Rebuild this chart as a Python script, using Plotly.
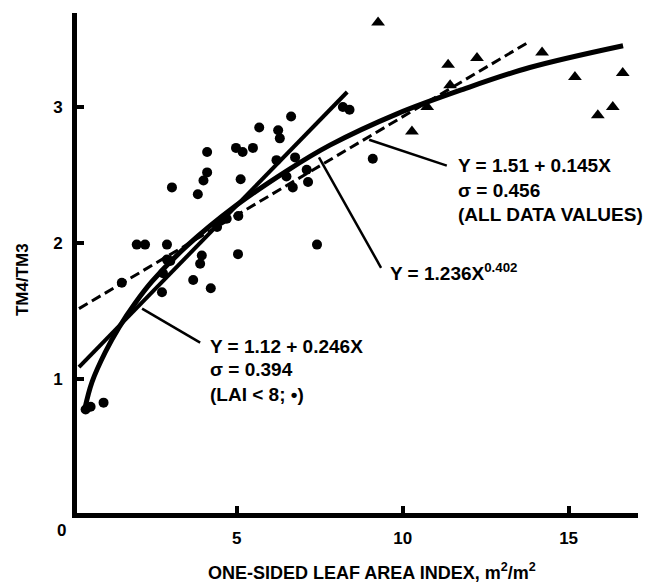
import plotly.graph_objects as go

# Data
circle_x = [0.45, 0.6, 0.99, 1.54, 1.99, 2.24, 2.75, 2.78, 2.9, 2.9, 3.05, 3.0, 3.69, 3.83, 3.9, 3.95,
            4.0, 4.11, 4.11, 4.22, 4.41, 4.7, 5.04, 4.98, 5.05, 5.12, 5.18, 5.49, 5.68, 6.2, 6.25,
            6.3, 6.5, 6.64, 6.69, 6.76, 7.11, 7.15, 7.42, 8.2, 8.4, 9.1]
circle_y = [0.78, 0.80, 0.83, 1.71, 1.99, 1.99, 1.64, 1.78, 1.99, 1.88, 2.41, 1.87, 1.73, 2.36, 1.85, 1.91,
            2.46, 2.52, 2.67, 1.67, 2.12, 2.18, 1.92, 2.70, 2.20, 2.47, 2.67, 2.70, 2.85, 2.61, 2.83,
            2.77, 2.49, 2.93, 2.41, 2.63, 2.54, 2.45, 1.99, 3.00, 2.98, 2.62]

tri_x = [9.26, 10.28, 10.74, 11.37, 11.43, 12.24, 14.2, 15.19, 15.88, 16.33, 16.63]
tri_y = [3.62, 2.82, 3.00, 3.31, 3.16, 3.36, 3.40, 3.22, 2.94, 3.00, 3.25]

# Fitted lines as drawn in the figure
lin8_x = [0.25, 8.33]
lin8_y = [1.09, 3.11]
all_x = [0.25, 13.75]
all_y = [1.52, 3.47]
pow_x = [0.42, 0.64, 1.04, 1.45, 1.94, 2.45, 3.5, 5.0, 6.5, 7.81, 9.83, 11.82, 13.83, 16.64]
pow_y = [0.78, 0.98, 1.20, 1.38, 1.56, 1.72, 1.98, 2.28, 2.53, 2.72, 2.95, 3.13, 3.29, 3.45]

x_ticks = [5, 10, 15]
y_ticks = [1, 2, 3]

FONT = "Liberation Sans, Arial, sans-serif"

fig = go.Figure()
fig.add_trace(go.Scatter(x=all_x, y=all_y, mode="lines",
                         line=dict(color="black", width=3, dash="10px,5px")))
fig.add_trace(go.Scatter(x=lin8_x, y=lin8_y, mode="lines",
                         line=dict(color="black", width=4)))
fig.add_trace(go.Scatter(x=pow_x, y=pow_y, mode="lines",
                         line=dict(color="black", width=5, shape="spline", smoothing=1.0)))
fig.add_trace(go.Scatter(x=circle_x, y=circle_y, mode="markers",
                         marker=dict(symbol="circle", size=10, color="black")))
fig.add_trace(go.Scatter(x=tri_x, y=tri_y, mode="markers",
                         marker=dict(symbol="triangle-up", size=12, color="black")))

# pointer lines
for (x0, y0, x1, y1) in [(2.15, 1.52, 3.9, 1.27), (8.99, 2.76, 11.33, 2.57), (7.48, 2.63, 9.35, 1.82)]:
    fig.add_shape(type="line", x0=x0, y0=y0, x1=x1, y1=y1, xref="x", yref="y",
                  line=dict(color="black", width=2.5))

def txt(x, y, s, size=19, **kw):
    fig.add_annotation(x=x, y=y, xref="x", yref="y", text="<b>" + s + "</b>", showarrow=False,
                       xanchor="left", yanchor="middle", font=dict(family=FONT, size=size, color="black"), **kw)

txt(4.14, 1.24, "Y = 1.12 + 0.246X")
txt(4.14, 1.07, "σ = 0.394")
txt(4.14, 0.89, "(LAI < 8; •)")
txt(11.6, 2.57, "Y = 1.51 + 0.145X")
txt(11.6, 2.39, "σ = 0.456")
txt(11.6, 2.21, "(ALL DATA VALUES)")
txt(9.56, 1.79, "Y = 1.236X<sup>0.402</sup>")

# axis titles and corner zero
fig.add_annotation(x=0.526, y=-0.118, xref="paper", yref="paper", showarrow=False,
                   text="<b>ONE-SIDED LEAF AREA INDEX, m<sup>2</sup>/m<sup>2</sup></b>",
                   font=dict(family=FONT, size=18, color="black"), xanchor="center", yanchor="middle")
fig.add_annotation(x=-0.098, y=0.466, xref="paper", yref="paper", showarrow=False,
                   text="<b>TM4/TM3</b>", textangle=-90,
                   font=dict(family=FONT, size=17, color="black"), xanchor="center", yanchor="middle")
fig.add_annotation(x=-0.027, y=-0.034, xref="paper", yref="paper", showarrow=False,
                   text="<b>0</b>", font=dict(family=FONT, size=17, color="black"),
                   xanchor="center", yanchor="middle")

fig.update_layout(
    width=657, height=585,
    margin=dict(l=77, r=19, t=13, b=72),
    paper_bgcolor="white", plot_bgcolor="white",
    showlegend=False,
    font=dict(family=FONT, size=17, color="black"),
)
fig.update_xaxes(range=[0.19, 17.09], tickvals=x_ticks, ticktext=["<b>%d</b>" % v for v in x_ticks],
                 showgrid=False, zeroline=False, showline=True, linecolor="black", linewidth=5,
                 ticks="inside", ticklen=7, tickwidth=4, tickcolor="black", ticklabelstandoff=6)
fig.update_yaxes(range=[0.02, 3.69], tickvals=y_ticks, ticktext=["<b>%d</b>" % v for v in y_ticks],
                 showgrid=False, zeroline=False, showline=True, linecolor="black", linewidth=5,
                 ticks="inside", ticklen=7, tickwidth=4, tickcolor="black", ticklabelstandoff=6)

fig.write_html("out.html")
